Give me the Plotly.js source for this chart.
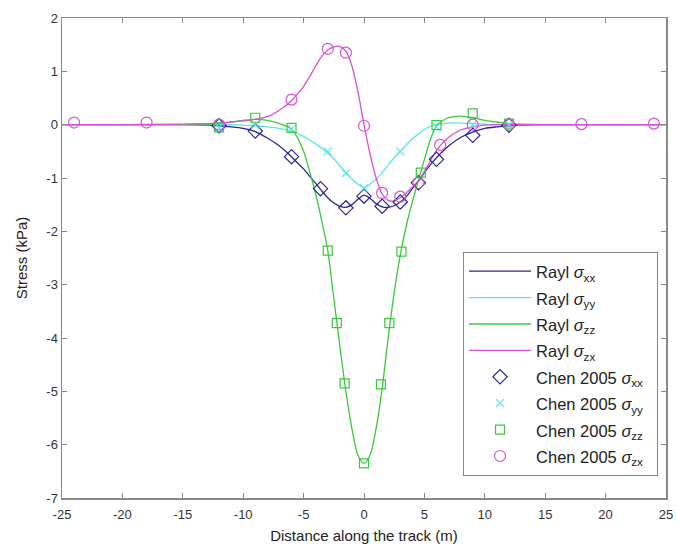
<!DOCTYPE html>
<html>
<head>
<meta charset="utf-8">
<script src="https://cdn.plot.ly/plotly-3.0.1.min.js"></script>
<style>html,body{margin:0;padding:0;background:#fff;}#chart{width:677px;height:549px;}</style>
</head>
<body>
<div id="chart"></div>
<script>
// Rayl model curves
const raylX = [-25,-20,-15,-13,-12,-11,-10,-9,-8,-7,-6,-5.5,-5,-4.5,-4,-3.5,-3,-2.5,-2,-1.5,-1,-0.5,0,0.5,1,1.5,2,2.5,3,3.5,4,4.5,5,5.5,6,7,8,9,10,11,12,13,15,20,25];
const raylXX = [0,0,0,-0.01,-0.02,-0.04,-0.07,-0.13,-0.25,-0.4,-0.6,-0.72,-0.83,-0.97,-1.1,-1.24,-1.37,-1.47,-1.53,-1.55,-1.5,-1.4,-1.32,-1.38,-1.48,-1.54,-1.55,-1.52,-1.45,-1.35,-1.2,-1.06,-0.9,-0.75,-0.62,-0.4,-0.24,-0.14,-0.07,-0.04,-0.02,-0.01,0,0,0];
const raylYY = [0,0,0,0,0,0,-0.01,-0.02,-0.04,-0.07,-0.12,-0.17,-0.22,-0.29,-0.36,-0.44,-0.53,-0.64,-0.77,-0.9,-1.02,-1.12,-1.18,-1.12,-1.02,-0.9,-0.76,-0.62,-0.5,-0.38,-0.27,-0.17,-0.09,-0.03,0,0.03,0.03,0.02,0.01,0,0,0,0,0,0];
const raylZZ = [0,0,0,0.01,0.02,0.05,0.08,0.1,0.08,0.02,-0.08,-0.25,-0.5,-0.88,-1.3,-1.8,-2.36,-3.25,-4.15,-5.0,-5.7,-6.2,-6.35,-6.2,-5.7,-4.95,-4.0,-3.15,-2.45,-1.9,-1.45,-1.05,-0.65,-0.28,-0.02,0.13,0.16,0.13,0.08,0.05,0.02,0.01,0,0,0];
const raylZX = [0,0,0.01,0.02,0.03,0.05,0.07,0.1,0.15,0.27,0.45,0.58,0.72,0.9,1.1,1.28,1.4,1.46,1.47,1.38,1.1,0.62,0.0,-0.55,-1.0,-1.3,-1.42,-1.43,-1.37,-1.28,-1.17,-1.05,-0.88,-0.68,-0.48,-0.24,-0.1,-0.04,-0.01,0,0,0,0,0,0];

// Chen 2005 data points
const chenXXx = [-12,-9,-6,-3.6,-1.5,0,1.5,3,4.5,6,9,12];
const chenXXy = [-0.02,-0.12,-0.6,-1.2,-1.56,-1.34,-1.53,-1.45,-1.09,-0.65,-0.2,-0.01];
const chenYYx = [-12,-9,-6,-3,-1.5,0,3,6,9,12];
const chenYYy = [-0.05,0.0,-0.08,-0.5,-0.91,-1.19,-0.5,-0.04,0.0,0.0];
const chenZZx = [-12,-9,-6,-3,-2.25,-1.6,0,1.4,2.1,3.1,4.7,6,9,12];
const chenZZy = [-0.05,0.13,-0.06,-2.36,-3.72,-4.85,-6.35,-4.87,-3.72,-2.38,-0.9,-0.01,0.21,0.02];
const chenZXx = [-24,-18,-12,-6,-3,-1.5,0,1.5,3,4.5,6.3,9,12,18,24];
const chenZXy = [0.04,0.04,0.0,0.47,1.42,1.35,-0.02,-1.28,-1.35,-1.09,-0.38,0.0,0.0,0.01,0.02];

// Tick labels
const xTicks = [-25,-20,-15,-10,-5,0,5,10,15,20,25];
const xTickText = ['-25','-20','-15','-10','-5','0','5','10','15','20','25'];
const yTicks = [2,1,0,-1,-2,-3,-4,-5,-6,-7];
const yTickText = ['2','1','0','-1','-2','-3','-4','-5','-6','-7'];

const cNavy = 'rgb(40,40,150)';
const cCyan = 'rgb(90,230,230)';
const cGreen = 'rgb(60,200,60)';
const cMag = 'rgb(215,80,215)';

function lbl(t) { return '<span style="font-size:16.5px">' + t + '\u00a0\u00a0</span>'; }

function line(y, color, name) {
  return {x: raylX, y: y, type: 'scatter', mode: 'lines', name: lbl(name),
    line: {color: color, width: 1.3, shape: 'spline', smoothing: 0.8}};
}
function pts(x, y, color, symbol, size, name) {
  return {x: x, y: y, type: 'scatter', mode: 'markers', name: lbl(name),
    marker: {symbol: symbol, size: size, color: color,
      line: {color: color, width: 1.2}}};
}

const traces = [
  line(raylXX, cNavy, 'Rayl <i>σ</i><sub>xx</sub>'),
  line(raylYY, cCyan, 'Rayl <i>σ</i><sub>yy</sub>'),
  line(raylZZ, cGreen, 'Rayl <i>σ</i><sub>zz</sub>'),
  line(raylZX, cMag, 'Rayl <i>σ</i><sub>zx</sub>'),
  pts(chenXXx, chenXXy, cNavy, 'diamond-open', 11, 'Chen 2005 <i>σ</i><sub>xx</sub>'),
  pts(chenYYx, chenYYy, cCyan, 'x-thin-open', 8, 'Chen 2005 <i>σ</i><sub>yy</sub>'),
  pts(chenZZx, chenZZy, cGreen, 'square-open', 9, 'Chen 2005 <i>σ</i><sub>zz</sub>'),
  pts(chenZXx, chenZXy, cMag, 'circle-open', 11, 'Chen 2005 <i>σ</i><sub>zx</sub>')
];

const axisCommon = {
  showgrid: false, zeroline: false, showline: true, linecolor: '#888', linewidth: 1.5,
  mirror: 'ticks', ticks: 'inside', ticklen: 5, tickcolor: '#888', tickwidth: 1,
  tickfont: {family: 'Liberation Sans, Arial, sans-serif', size: 13, color: '#333'}
};

const layout = {
  width: 677, height: 549,
  margin: {l: 62, r: 11, t: 18, b: 51},
  paper_bgcolor: '#fff', plot_bgcolor: '#fff',
  showlegend: true,
  font: {family: 'Liberation Sans, Arial, sans-serif', color: '#222'},
  xaxis: Object.assign({}, axisCommon, {
    range: [-25, 25], tickmode: 'array', tickvals: xTicks, ticktext: xTickText,
    ticklabelstandoff: 4,
    title: {text: 'Distance along the track (m)', font: {size: 15, color: '#222'}, standoff: 9}
  }),
  yaxis: Object.assign({}, axisCommon, {
    range: [-7, 2], tickmode: 'array', tickvals: yTicks, ticktext: yTickText,
    title: {text: 'Stress (kPa)', font: {size: 15, color: '#222'}, standoff: 15}
  }),
  legend: {
    x: 0.664, y: 0.5125, xanchor: 'left', yanchor: 'top',
    bgcolor: '#fff', bordercolor: '#888', borderwidth: 1,
    font: {family: 'Liberation Sans, Arial, sans-serif', size: 18, color: '#222'},
    tracegroupgap: 0, itemwidth: 62
  }
};

Plotly.newPlot('chart', traces, layout, {displayModeBar: false, staticPlot: true});
</script>
</body>
</html>
